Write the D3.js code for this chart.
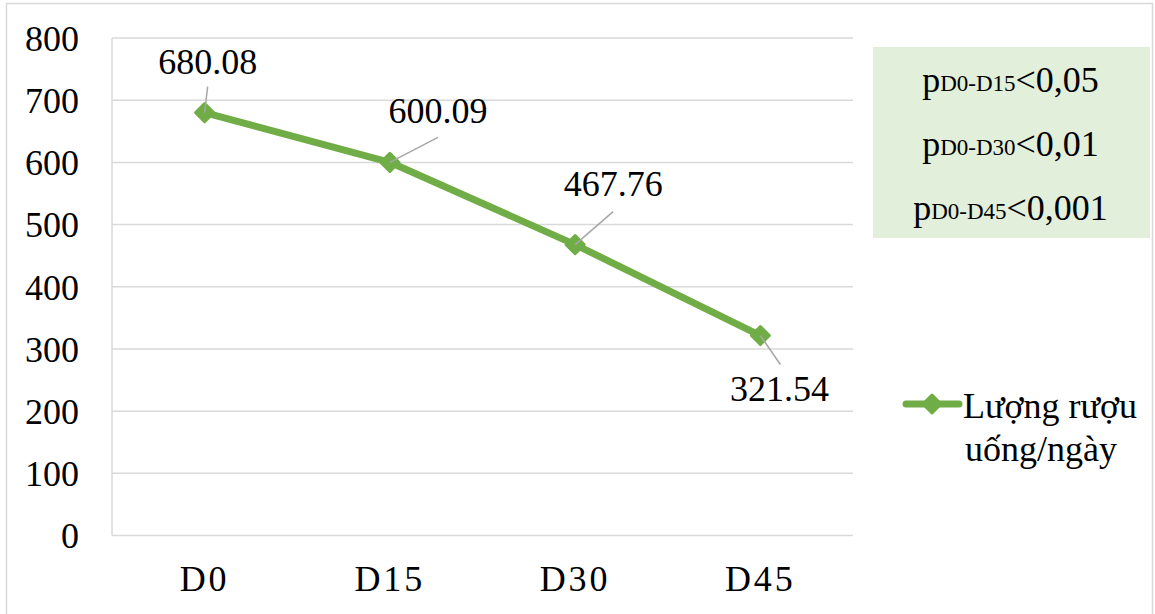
<!DOCTYPE html>
<html>
<head>
<meta charset="utf-8">
<script src="https://cdn.jsdelivr.net/npm/d3@7"></script>
<style>
  html, body { margin: 0; padding: 0; background: #fff; }
  svg { display: block; }
  text { font-family: "Liberation Serif", "Times New Roman", serif; fill: #000; }
</style>
</head>
<body>
<svg id="chart" width="1155" height="614"></svg>
<script>
// Daily alcohol intake at each follow-up visit
const categories = ["D0", "D15", "D30", "D45"];
const values = [680.08, 600.09, 467.76, 321.54];
const yTicks = [0, 100, 200, 300, 400, 500, 600, 700, 800];
const seriesName = ["Lượng rượu", "uống/ngày"];
// p-value annotations: [prefix, subscript, suffix]
const pNotes = [
  ["p", "D0-D15", "<0,05"],
  ["p", "D0-D30", "<0,01"],
  ["p", "D0-D45", "<0,001"]
];

const green = "#70AD47";
const grid = "#D9D9D9";

const svg = d3.select("#chart");

// outer chart frame
svg.append("rect")
  .attr("x", 6.5).attr("y", 3.5)
  .attr("width", 1146).attr("height", 620)
  .attr("fill", "#fff").attr("stroke", "#D9D9D9").attr("stroke-width", 1.5);

const plot = { left: 112, right: 853, top: 38, bottom: 535.5 };

const x = d3.scaleBand().domain(categories).range([plot.left, plot.right]);
const y = d3.scaleLinear().domain([0, 800]).range([plot.bottom, plot.top]);

// horizontal gridlines
svg.append("g")
  .selectAll("line")
  .data(yTicks)
  .join("line")
  .attr("x1", plot.left).attr("x2", plot.right)
  .attr("y1", d => y(d)).attr("y2", d => y(d))
  .attr("stroke", grid).attr("stroke-width", 1.5);

// vertical axis line
svg.append("line")
  .attr("x1", plot.left).attr("x2", plot.left)
  .attr("y1", plot.top).attr("y2", plot.bottom)
  .attr("stroke", grid).attr("stroke-width", 1.5);

// y axis labels
const yAxis = d3.axisLeft(y).tickValues(yTicks).tickSize(0).tickPadding(33);
const yg = svg.append("g").attr("transform", `translate(${plot.left},0)`).call(yAxis);
yg.select(".domain").remove();
yg.selectAll("text")
  .style("font-family", '"Liberation Serif", serif')
  .attr("font-size", 36).attr("fill", "#000").attr("dy", "0.34em");

// x axis labels
const xAxis = d3.axisBottom(x).tickSize(0).tickPadding(30);
const xg = svg.append("g").attr("transform", `translate(0,${plot.bottom})`).call(xAxis);
xg.select(".domain").remove();
xg.selectAll("text")
  .style("font-family", '"Liberation Serif", serif')
  .style("letter-spacing", "3px")
  .attr("font-size", 36).attr("fill", "#000").attr("dy", "0.71em");

const cx = d => x(d) + x.bandwidth() / 2;

// series line
const line = d3.line().x((d, i) => cx(categories[i])).y(d => y(d));
svg.append("path")
  .datum(values)
  .attr("d", line)
  .attr("fill", "none")
  .attr("stroke", green).attr("stroke-width", 7)
  .attr("stroke-linejoin", "round");

// diamond markers
const diamond = r => `M0,${-r}L${r},0L0,${r}L${-r},0Z`;
svg.append("g")
  .selectAll("path")
  .data(values)
  .join("path")
  .attr("transform", (d, i) => `translate(${cx(categories[i])},${y(d)})`)
  .attr("d", diamond(9))
  .attr("fill", green).attr("stroke", green)
  .attr("stroke-width", 3).attr("stroke-linejoin", "round");

// data labels with leader lines: offsets of label centre from point
const labelOffset = [[3, -39], [48, -39], [38, -49], [19, 65]];
const leaderEnd = [[3, -26], [48, -25], [38, -33], [20, 29]];
const lbl = svg.append("g");
values.forEach((v, i) => {
  const px = cx(categories[i]), py = y(v);
  lbl.append("line")
    .attr("x1", px).attr("y1", py)
    .attr("x2", px + leaderEnd[i][0]).attr("y2", py + leaderEnd[i][1])
    .attr("stroke", "#A6A6A6").attr("stroke-width", 1.5);
  lbl.append("text")
    .attr("x", px + labelOffset[i][0]).attr("y", py + labelOffset[i][1])
    .attr("text-anchor", "middle")
    .attr("font-size", 36)
    .text(v.toFixed(2));
});

// p-value box
const box = { x: 873, y: 47, w: 277, h: 191 };
svg.append("rect")
  .attr("x", box.x).attr("y", box.y).attr("width", box.w).attr("height", box.h)
  .attr("fill", "#E2EFDA");
pNotes.forEach((n, i) => {
  const t = svg.append("text")
    .attr("x", box.x + box.w / 2 - 1)
    .attr("y", 92 + i * 64)
    .attr("text-anchor", "middle")
    .attr("font-size", 36);
  t.append("tspan").text(n[0]);
  t.append("tspan").attr("font-size", 23).attr("dy", -1).text(n[1]);
  t.append("tspan").attr("dy", 1).text(n[2]);
});

// legend
const lg = svg.append("g");
lg.append("line")
  .attr("x1", 906).attr("x2", 959).attr("y1", 404).attr("y2", 404)
  .attr("stroke", green).attr("stroke-width", 7).attr("stroke-linecap", "round");
lg.append("path")
  .attr("transform", "translate(932,404)")
  .attr("d", diamond(9))
  .attr("fill", green).attr("stroke", green)
  .attr("stroke-width", 3).attr("stroke-linejoin", "round");
const lt = lg.append("text").attr("font-size", 36);
seriesName.forEach((s, i) => {
  lt.append("tspan").attr("x", i === 0 ? 963 : 965).attr("y", 418 + i * 43).text(s);
});
</script>
</body>
</html>
